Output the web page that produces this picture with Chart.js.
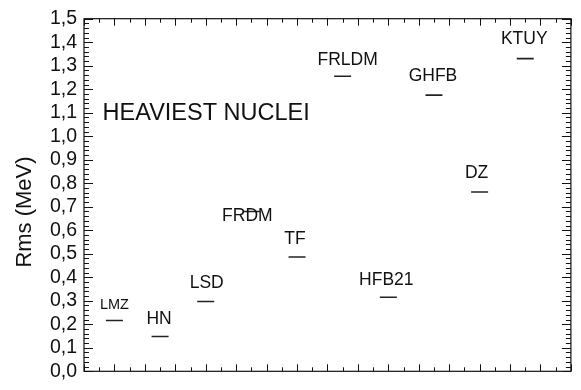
<!DOCTYPE html>
<html>
<head>
<meta charset="utf-8">
<script src="https://cdn.jsdelivr.net/npm/chart.js@4/dist/chart.umd.min.js"></script>
<style>
  html, body { margin: 0; padding: 0; background: #fff; }
  #wrap { width: 581px; height: 390px; }
</style>
</head>
<body>
<div id="wrap"><canvas id="c" width="581" height="390"></canvas></div>
<script>
// Mass models and their rms deviation for the heaviest nuclei
const models = ['LMZ', 'HN', 'LSD', 'FRDM', 'TF', 'FRLDM', 'HFB21', 'GHFB', 'DZ', 'KTUY'];
const rmsValues = [0.216, 0.148, 0.297, 0.680, 0.486, 1.255, 0.315, 1.175, 0.763, 1.330];
const yTickValues = [0.0, 0.1, 0.2, 0.3, 0.4, 0.5, 0.6, 0.7, 0.8, 0.9, 1.0, 1.1, 1.2, 1.3, 1.4, 1.5];

// label placement (pixel offsets from each marker) and font sizes
const labelOffsets = [[0, -16], [-1, -17], [1, -18], [-4, 5], [-2, -18], [5, -16], [-2, -17], [-1, -19], [-3, -19], [-1, -19]];
const labelSizes = [14.5, 17.5, 17.5, 17.5, 17.5, 17.5, 17.5, 17.5, 17.5, 17.5];

const FONT = "'Liberation Sans', Arial, Helvetica, sans-serif";

// spread models along the horizontal axis
const points = models.map((m, i) => ({ x: 1 + 1.5 * i, y: rmsValues[i] }));

const frameAndTicks = {
  id: 'frameAndTicks',
  afterDatasetsDraw(chart) {
    const { ctx, chartArea: a, scales: { x, y } } = chart;
    ctx.save();
    ctx.strokeStyle = '#111';
    ctx.lineWidth = 1.2;
    ctx.strokeRect(a.left, a.top, a.right - a.left, a.bottom - a.top);
    ctx.lineWidth = 1;
    ctx.beginPath();
    // vertical axis: major every 0.1, minor every 0.02
    for (let k = 0; k <= 75; k++) {
      const py = Math.round(y.getPixelForValue(k * 0.02)) + 0.5;
      const len = k % 5 === 0 ? 9 : 5;
      ctx.moveTo(a.left, py); ctx.lineTo(a.left + len, py);
      ctx.moveTo(a.right, py); ctx.lineTo(a.right - len, py);
    }
    // horizontal axis: major every 1, minor every 0.5
    for (let k = 0; k <= 32; k++) {
      const px = Math.round(x.getPixelForValue(k * 0.5)) + 0.5;
      const len = k % 2 === 0 ? 7 : 4;
      ctx.moveTo(px, a.bottom); ctx.lineTo(px, a.bottom - len);
      ctx.moveTo(px, a.top); ctx.lineTo(px, a.top + len);
    }
    ctx.stroke();

    // model names above their markers
    ctx.fillStyle = '#111';
    ctx.textAlign = 'center';
    ctx.textBaseline = 'middle';
    points.forEach((p, i) => {
      ctx.font = labelSizes[i] + 'px ' + FONT;
      const px = x.getPixelForValue(p.x) + labelOffsets[i][0];
      const py = y.getPixelForValue(p.y) + labelOffsets[i][1];
      ctx.fillText(models[i], px, py);
    });

    // panel caption
    ctx.font = '23.5px ' + FONT;
    ctx.textAlign = 'left';
    ctx.fillText('HEAVIEST NUCLEI', x.getPixelForValue(0.61), y.getPixelForValue(1.095));

    // vertical axis title
    ctx.font = '22px ' + FONT;
    ctx.textAlign = 'center';
    ctx.translate(25, 212);
    ctx.rotate(-Math.PI / 2);
    ctx.fillText('Rms (MeV)', 0, 0);
    ctx.restore();
  }
};

new Chart(document.getElementById('c'), {
  type: 'scatter',
  data: {
    datasets: [{
      data: points,
      pointStyle: 'line',
      pointRadius: 8.5,
      pointHoverRadius: 8.5,
      borderColor: '#222',
      backgroundColor: '#222',
      pointBorderWidth: 1.6,
      showLine: false
    }]
  },
  options: {
    responsive: false,
    animation: false,
    layout: { padding: { left: 0, top: 18, right: 4, bottom: 10 } },
    plugins: { legend: { display: false }, tooltip: { enabled: false } },
    scales: {
      x: {
        type: 'linear',
        min: 0, max: 16,
        ticks: { display: false },
        grid: { display: false, drawTicks: false },
        border: { display: false },
        afterFit(s) { s.height = 0; }
      },
      y: {
        type: 'linear',
        min: 0, max: 1.5,
        afterBuildTicks(s) { s.ticks = yTickValues.map(v => ({ value: v })); },
        ticks: {
          padding: 7,
          autoSkip: false,
          color: '#111',
          font: { family: FONT, size: 19.5 },
          callback: v => v.toFixed(1).replace('.', ',')
        },
        grid: { display: false, drawTicks: false },
        border: { display: false },
        afterFit(s) { s.width = 84; }
      }
    }
  },
  plugins: [frameAndTicks]
});
</script>
</body>
</html>
